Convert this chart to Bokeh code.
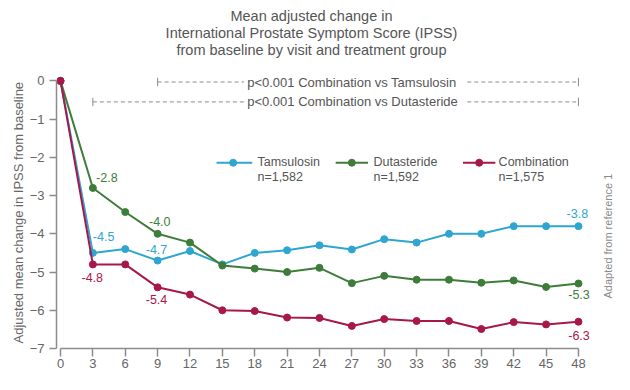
import math
from bokeh.plotting import figure
from bokeh.models import Label, Range1d, FixedTicker, Title
from bokeh.embed import file_html
from bokeh.resources import INLINE

# ---- data ----
months = [0, 3, 6, 9, 12, 15, 18, 21, 24, 27, 30, 33, 36, 39, 42, 45, 48]
tamsulosin = [0, -4.5, -4.4, -4.7, -4.45, -4.8, -4.5, -4.43, -4.3, -4.41, -4.14, -4.23, -4.0, -4.0, -3.8, -3.8, -3.8]
dutasteride = [0, -2.8, -3.43, -4.0, -4.23, -4.83, -4.91, -5.0, -4.89, -5.29, -5.1, -5.2, -5.2, -5.28, -5.22, -5.39, -5.3]
combination = [0, -4.8, -4.8, -5.4, -5.59, -6.0, -6.02, -6.19, -6.2, -6.41, -6.23, -6.28, -6.28, -6.49, -6.31, -6.37, -6.3]
groups = ["Tamsulosin", "Dutasteride", "Combination"]
group_n = ["n=1,582", "n=1,592", "n=1,575"]
y_ticks = [0, -1, -2, -3, -4, -5, -6, -7]
title_lines = ["Mean adjusted change in",
               "International Prostate Symptom Score (IPSS)",
               "from baseline by visit and treatment group"]
y_title = "Adjusted mean change in IPSS from baseline"
sig_texts = ["p<0.001 Combination vs Tamsulosin", "p<0.001 Combination vs Dutasteride"]
sig_start = [9, 3]

FONT = "Liberation Sans"
BLUE = "#2ea6cf"
GREEN = "#3e7d39"
RED = "#a8174a"
TXT = "#555555"
AX = "#8c8c8c"

p = figure(width=614, height=374, output_backend="svg", toolbar_location=None,
           x_range=Range1d(-0.37, 51.34), y_range=Range1d(-7, 2.103),
           min_border_left=56, min_border_right=0, min_border_top=0, min_border_bottom=26)
p.outline_line_color = None
p.xgrid.visible = False
p.ygrid.visible = False

for ax in (p.xaxis[0], p.yaxis[0]):
    ax.axis_line_color = AX
    ax.axis_line_width = 1.5
    ax.major_tick_line_color = AX
    ax.major_tick_line_width = 1.5
    ax.minor_tick_line_color = None
    ax.major_tick_in = 0
    ax.major_label_text_font = FONT
    ax.major_label_text_font_size = "13px"
    ax.major_label_text_color = "#666666"

p.xaxis.ticker = FixedTicker(ticks=months)
p.xaxis.bounds = (0, 48)
p.xaxis.major_tick_out = 8
p.xaxis.major_label_standoff = 2
p.yaxis.ticker = FixedTicker(ticks=y_ticks)
p.yaxis.bounds = (-7, 0)
p.yaxis.major_tick_out = 7
p.yaxis.major_label_standoff = 5

p.add_layout(Title(text=y_title, align="left", offset=5, standoff=1,
                   text_font=FONT, text_font_size="13px", text_font_style="normal",
                   text_color="#666666"), "left")

series = [(tamsulosin, BLUE), (dutasteride, GREEN), (combination, RED)]
for vals, col in series:
    p.line(months, vals, line_color=col, line_width=2)
    p.scatter(months, vals, size=7, fill_color=col, line_color=col)


def lab(x, y, text, color, size="12.5px", align="left", baseline="middle", angle=0):
    p.add_layout(Label(x=x, y=y, text=text, text_color=color, text_font=FONT,
                       text_font_size=size, text_align=align, text_baseline=baseline,
                       angle=angle))


# data labels
lab(3.3, -2.52, f"{dutasteride[1]:.1f}", GREEN)
lab(8.2, -3.67, f"{dutasteride[3]:.1f}", GREEN)
lab(3.0, -4.08, f"{tamsulosin[1]:.1f}", BLUE)
lab(7.9, -4.41, f"{tamsulosin[3]:.1f}", BLUE)
lab(1.95, -5.13, f"{combination[1]:.1f}", RED)
lab(7.9, -5.72, f"{combination[3]:.1f}", RED)
lab(47.9, -3.47, f"{tamsulosin[-1]:.1f}", BLUE, align="center")
lab(48.05, -5.58, f"{dutasteride[-1]:.1f}", GREEN, align="center")
lab(48.05, -6.66, f"{combination[-1]:.1f}", RED, align="center")

# legend
leg_x = [(14.46, 16.0, 17.77, 18.25), (25.5, 27.0, 28.5, 29.0), (37.3, 38.8, 40.3, 40.6)]
for (x0, xd, x1, xt), (vals, col), name, n in zip(leg_x, series, groups, group_n):
    p.segment(x0=[x0], y0=[-2.14], x1=[x1], y1=[-2.14], line_color=col, line_width=2)
    p.scatter([xd], [-2.14], size=7, fill_color=col, line_color=col)
    lab(xt, -2.12, name, TXT, size="12.5px")
    lab(xt, -2.51, n, TXT, size="12.5px")

# significance brackets
sig_y = [-0.03, -0.55]
for y, x0, t in zip(sig_y, sig_start, sig_texts):
    p.segment(x0=[x0, 37.7], y0=[y, y], x1=[17.0, 48], y1=[y, y],
              line_color=AX, line_width=1, line_dash="4 3")
    p.segment(x0=[x0, 48], y0=[y - 0.11, y - 0.11], x1=[x0, 48], y1=[y + 0.11, y + 0.11],
              line_color=AX, line_width=1)
    lab(17.3, y, t, TXT, size="13px")

# title
for ty, t in zip([1.692, 1.248, 0.803], title_lines):
    lab(23.26, ty, t, TXT, size="14.5px", align="center")

# side note
lab(50.7, -4.06, "Adapted from reference 1", "#8a8a8a", size="11px", align="center",
    angle=math.pi / 2)

open("out.html", "w").write(file_html(p, INLINE))
